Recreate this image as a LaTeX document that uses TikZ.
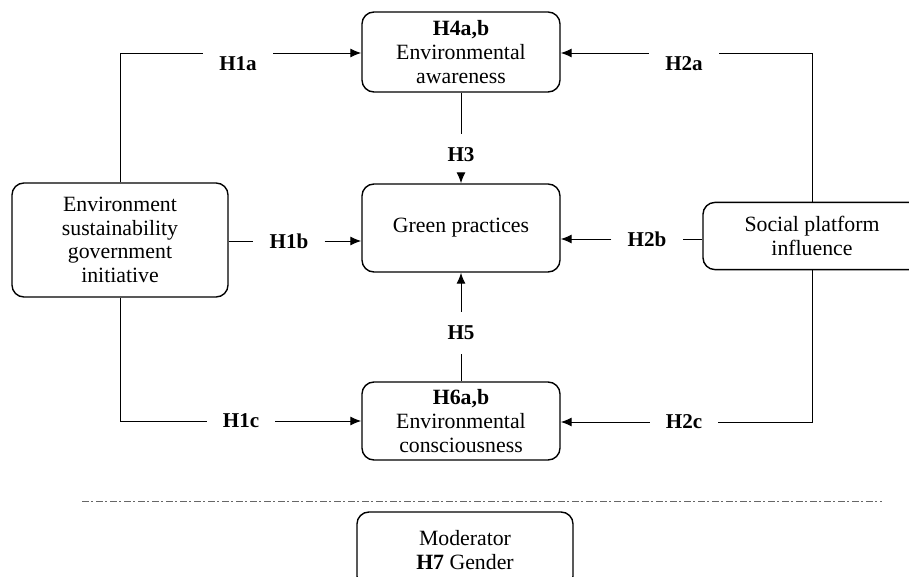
\documentclass[tikz,border=0pt]{standalone}
\usepackage{fontspec}
\setmainfont{Liberation Serif}
\usepackage{tikz}
\usetikzlibrary{arrows.meta, positioning}

\begin{document}
\begin{tikzpicture}[x=0.025cm, y=-0.025cm,
  box/.style={draw, line width=1pt, rounded corners=0.3cm, align=center,
    font=\fontsize{15.5}{16.8}\selectfont},
  hyp/.style={font=\fontsize{15}{16.8}\selectfont\bfseries, inner xsep=0.4cm, inner ysep=2pt},
  vhyp/.style={font=\fontsize{15}{16.8}\selectfont\bfseries, inner xsep=2pt, inner ysep=0.35cm},
  link/.style={line width=0.7pt},
  arrowlink/.style={line width=0.7pt, -{Latex[length=2.7mm, width=2.2mm]}}]
  \useasboundingbox (0, 0) rectangle (909, 577);

  % Constructs
  \node[box, minimum width=4.95cm, minimum height=2cm] (aware) at (461, 52)
    {\textbf{H4a,b}\\Environmental\\awareness};
  \node[box, minimum width=4.95cm, minimum height=2.2cm] (green) at (461, 228)
    {Green practices};
  \node[box, minimum width=4.95cm, minimum height=1.95cm] (consc) at (461, 421)
    {\textbf{H6a,b}\\Environmental\\consciousness};
  \node[box, minimum width=5.4cm, minimum height=2.85cm] (govt) at (120, 240)
    {Environment\\sustainability\\government\\initiative};
  \node[box, minimum width=5.45cm, minimum height=1.68cm] (social) at (812, 236)
    {Social platform\\influence};

  % Hypothesis labels
  \node[hyp, anchor=north] (h1a) at (238, 53) {H1a};
  \node[hyp] (h1b) at (289, 241) {H1b};
  \node[hyp] (h1c) at (241, 421) {H1c};
  \node[hyp, anchor=north] (h2a) at (684, 53) {H2a};
  \node[hyp] (h2b) at (647, 239) {H2b};
  \node[hyp] (h2c) at (684, 422) {H2c};
  \node[vhyp] (h3) at (461, 155) {H3};
  \node[vhyp] (h5) at (461, 333) {H5};

  % Paths from government initiative
  \draw[link] (govt.north) |- (h1a.north west);
  \draw[arrowlink] (h1a.north east) -- (aware.west |- h1a.north east);
  \draw[link] (govt.east |- h1b) -- (h1b.west);
  \draw[arrowlink] (h1b.east) -- (green.west |- h1b);
  \draw[link] (govt.south) |- (h1c.west);
  \draw[arrowlink] (h1c.east) -- (consc.west |- h1c);

  % Paths from social platform
  \draw[link] (social.north) |- (h2a.north east);
  \draw[arrowlink] (h2a.north west) -- (aware.east |- h2a.north west);
  \draw[link] (social.west |- h2b) -- (h2b.east);
  \draw[arrowlink] (h2b.west) -- (green.east |- h2b);
  \draw[link] (social.south) |- (h2c.east);
  \draw[arrowlink] (h2c.west) -- (consc.east |- h2c);

  % Mediators
  \draw[link] (aware.south) -- (h3.north);
  \draw[arrowlink] (h3.south) -- (green.north);
  \draw[link] (consc.north) -- (h5.south);
  \draw[arrowlink] (h5.north) -- (green.south);

  % Moderator
  \coordinate (sepL) at (82, 501);
  \coordinate (sepR) at (882, 501);
  \draw[gray!80!black, line width=0.6pt,
    dash pattern=on 0.17cm off 0.06cm on 0.04cm off 0.08cm] (sepL) -- (sepR);
  \node[box, minimum width=5.4cm, minimum height=1.9cm] (moder) at (465, 550)
    {Moderator\\\textbf{H7} Gender};
\end{tikzpicture}
\end{document}
